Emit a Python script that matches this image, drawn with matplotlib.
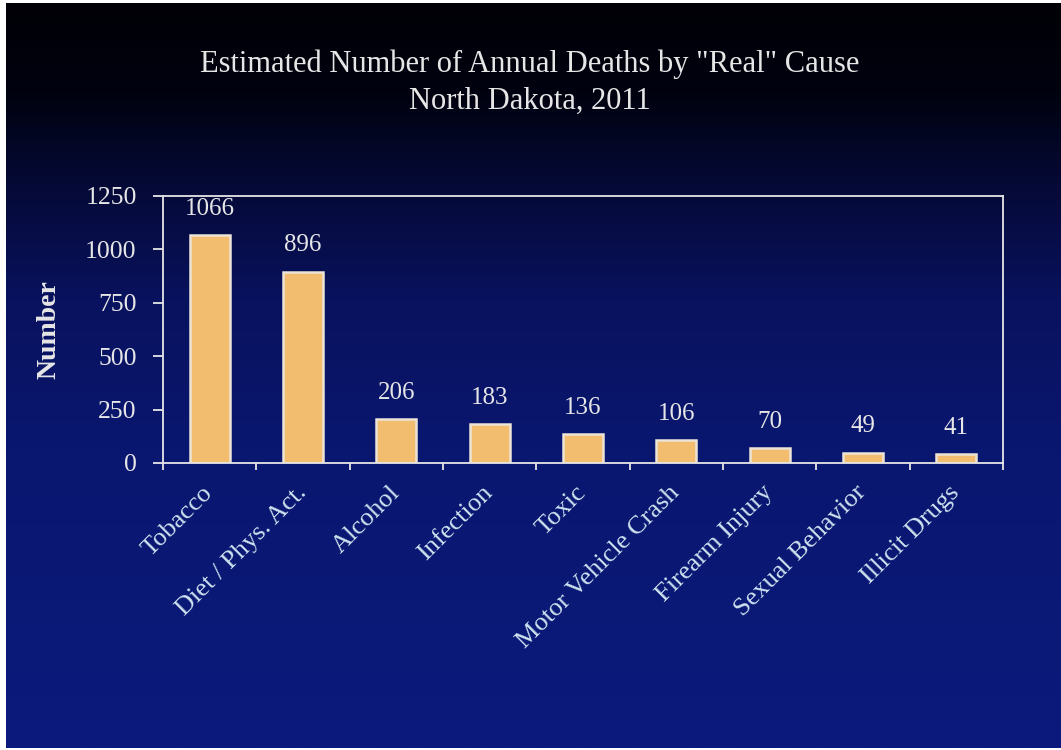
import numpy as np
import matplotlib.pyplot as plt
from matplotlib.colors import LinearSegmentedColormap

# ---------------- Data ----------------
causes = ["Tobacco", "Diet / Phys. Act.", "Alcohol", "Infection", "Toxic",
          "Motor Vehicle Crash", "Firearm Injury", "Sexual Behavior", "Illicit Drugs"]
deaths = [1066, 896, 206, 183, 136, 106, 70, 49, 41]
y_ticks = [0, 250, 500, 750, 1000, 1250]
# ---------------------------------------

SERIF = ["Liberation Serif", "DejaVu Serif"]
BAR_COLOR = "#F2BD6E"
TEXT_COLOR = "#E6E6E6"
XLABEL_COLOR = "#CFE3F0"

fig = plt.figure(figsize=(10.61, 7.5), dpi=100, facecolor="white")

# slide background: black at the top fading into navy
bg = fig.add_axes([0.0057, 0.003, 0.9943, 0.993])
slide = LinearSegmentedColormap.from_list(
    "slide", [(0.0, "#000006"), (0.12, "#01020f"), (0.25, "#050a38"),
              (0.4, "#09125e"), (0.6, "#0a1770"), (1.0, "#0b1a7c")])
bg.imshow(np.linspace(0, 1, 256).reshape(-1, 1), aspect="auto", cmap=slide,
          extent=[0, 1, 0, 1], origin="upper")
bg.axis("off")

fig.text(0.4995, 0.914, 'Estimated Number of Annual Deaths by "Real" Cause',
         ha="center", va="center", fontsize=22, color=TEXT_COLOR, family=SERIF)
fig.text(0.4995, 0.865, "North Dakota, 2011",
         ha="center", va="center", fontsize=22, color=TEXT_COLOR, family=SERIF)

ax = fig.add_axes([0.1536, 0.3827, 0.7917, 0.356])
ax.set_facecolor("none")

x = np.arange(len(causes))
ax.bar(x, deaths, width=0.43, color=BAR_COLOR, edgecolor="#ECE4D6", linewidth=1.8)

for xi, v in zip(x, deaths):
    ax.annotate(str(v), (xi, v), xytext=(0, 11), textcoords="offset points",
                ha="center", va="bottom", fontsize=18, color=TEXT_COLOR, family=SERIF)

ax.set_xlim(-0.5, len(causes) - 0.5)
ax.set_ylim(0, 1250)
ax.set_yticks(y_ticks)
ax.set_yticklabels([str(t) for t in y_ticks], family=SERIF, fontsize=18.5, color=TEXT_COLOR)
ax.set_xticks(x)
ax.set_xticklabels(causes, rotation=45, ha="right", va="center",
                   rotation_mode="anchor", family=SERIF, fontsize=19, color=XLABEL_COLOR)
ax.set_xticks(np.arange(-0.5, len(causes)), minor=True)

ax.tick_params(axis="y", direction="out", length=7, width=1.3, color="#E6E6E6", pad=12)
ax.tick_params(axis="x", which="major", length=0, pad=19)
ax.tick_params(axis="x", which="minor", direction="out", length=5, width=1.3, color="#E6E6E6")

for side in ["left", "right", "top", "bottom"]:
    ax.spines[side].set_color("#E6E6E6")
    ax.spines[side].set_linewidth(1.3)

ax.set_ylabel("Number", family=SERIF, fontsize=20, fontweight="bold", color=TEXT_COLOR,
              labelpad=17)

fig.savefig("out.png", dpi=100, facecolor=fig.get_facecolor())
